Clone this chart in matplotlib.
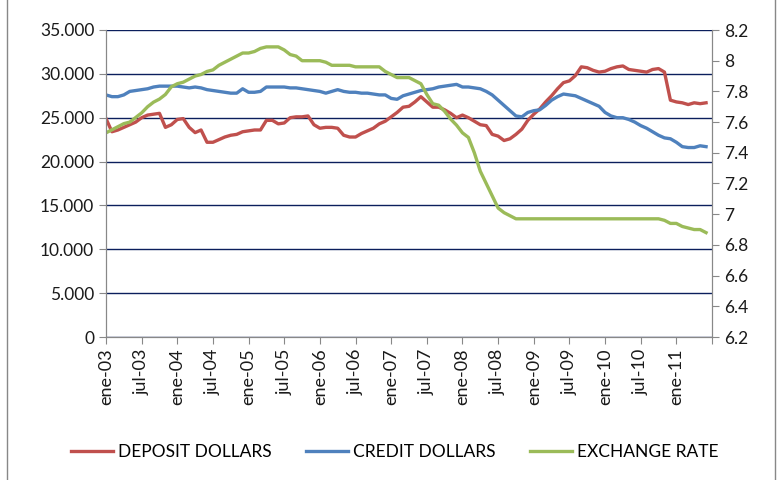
import matplotlib.pyplot as plt
from matplotlib.patches import Rectangle
from matplotlib.ticker import FuncFormatter

plt.rcParams['font.family'] = ['Lato', 'DejaVu Sans']

# monthly series, ene-03 .. jun-11
deposit = [24.9, 23.4, 23.6, 23.9, 24.2, 24.5, 25.0, 25.3, 25.4, 25.5,
           23.9, 24.2, 24.8, 24.9, 23.9, 23.3, 23.6, 22.2, 22.2, 22.5,
           22.8, 23.0, 23.1, 23.4, 23.5, 23.6, 23.6, 24.7, 24.7, 24.3,
           24.4, 25.0, 25.1, 25.1, 25.2, 24.2, 23.8, 23.9, 23.9, 23.8,
           23.0, 22.8, 22.8, 23.2, 23.5, 23.8, 24.3, 24.6, 25.1, 25.6,
           26.2, 26.3, 26.8, 27.4, 26.8, 26.2, 26.2, 25.9, 25.5, 25.0,
           25.3, 25.0, 24.6, 24.2, 24.1, 23.1, 22.9, 22.4, 22.6, 23.1,
           23.7, 24.7, 25.4, 26.0, 26.8, 27.5, 28.3, 29.0, 29.2, 29.8,
           30.8, 30.7, 30.4, 30.2, 30.3, 30.6, 30.8, 30.9, 30.5, 30.4,
           30.3, 30.2, 30.5, 30.6, 30.2, 27.0, 26.8, 26.7, 26.5, 26.7,
           26.6, 26.7]
credit = [27.6, 27.4, 27.4, 27.6, 28.0, 28.1, 28.2, 28.3, 28.5, 28.6,
          28.6, 28.6, 28.6, 28.5, 28.4, 28.5, 28.4, 28.2, 28.1, 28.0,
          27.9, 27.8, 27.8, 28.3, 27.9, 27.9, 28.0, 28.5, 28.5, 28.5,
          28.5, 28.4, 28.4, 28.3, 28.2, 28.1, 28.0, 27.8, 28.0, 28.2,
          28.0, 27.9, 27.9, 27.8, 27.8, 27.7, 27.6, 27.6, 27.2, 27.1,
          27.5, 27.7, 27.9, 28.1, 28.2, 28.3, 28.5, 28.6, 28.7, 28.8,
          28.5, 28.5, 28.4, 28.3, 28.0, 27.6, 27.0, 26.4, 25.8, 25.2,
          25.1, 25.6, 25.8, 25.9, 26.4, 27.0, 27.4, 27.7, 27.6, 27.5,
          27.2, 26.9, 26.6, 26.3, 25.6, 25.2, 25.0, 25.0, 24.8, 24.5,
          24.1, 23.8, 23.4, 23.0, 22.7, 22.6, 22.2, 21.7, 21.6, 21.6,
          21.8, 21.7]
exchange = [7.53, 7.55, 7.57, 7.59, 7.60, 7.63, 7.66, 7.70, 7.73, 7.75,
            7.78, 7.83, 7.85, 7.86, 7.88, 7.90, 7.91, 7.93, 7.94, 7.97,
            7.99, 8.01, 8.03, 8.05, 8.05, 8.06, 8.08, 8.09, 8.09, 8.09,
            8.07, 8.04, 8.03, 8.00, 8.00, 8.00, 8.00, 7.99, 7.97, 7.97,
            7.97, 7.97, 7.96, 7.96, 7.96, 7.96, 7.96, 7.93, 7.91, 7.89,
            7.89, 7.89, 7.87, 7.85, 7.78, 7.72, 7.71, 7.67, 7.62, 7.58,
            7.53, 7.50, 7.40, 7.28, 7.20, 7.12, 7.04, 7.01, 6.99, 6.97,
            6.97, 6.97, 6.97, 6.97, 6.97, 6.97, 6.97, 6.97, 6.97, 6.97,
            6.97, 6.97, 6.97, 6.97, 6.97, 6.97, 6.97, 6.97, 6.97, 6.97,
            6.97, 6.97, 6.97, 6.97, 6.96, 6.94, 6.94, 6.92, 6.91, 6.90,
            6.90, 6.88]
tick_labels = ['ene-03', 'jul-03', 'ene-04', 'jul-04', 'ene-05', 'jul-05',
               'ene-06', 'jul-06', 'ene-07', 'jul-07', 'ene-08', 'jul-08',
               'ene-09', 'jul-09', 'ene-10', 'jul-10', 'ene-11']

months = list(range(len(deposit)))
dep = [v * 1000 for v in deposit]
cred = [v * 1000 for v in credit]

fig = plt.figure(figsize=(7.77, 4.8), dpi=100)
ax = fig.add_axes([106 / 777, 143 / 480, 606 / 777, 307 / 480])
ax2 = ax.twinx()

l1, = ax.plot(months, dep, color='#C0504D', lw=2.4, label='DEPOSIT DOLLARS')
l2, = ax.plot(months, cred, color='#4F81BD', lw=2.4, label='CREDIT DOLLARS')
l3, = ax2.plot(months, exchange, color='#9BBB59', lw=2.4, label='EXCHANGE RATE')

ax.set_ylim(0, 35000)
ax.set_yticks(range(0, 35001, 5000))
ax.yaxis.set_major_formatter(FuncFormatter(lambda v, p: f'{int(v):,}'.replace(',', '.')))
ax.grid(axis='y', color='#0B1F5C', lw=1)
ax.set_axisbelow(True)

ax2.set_ylim(6.2, 8.2)
ax2.set_yticks([6.2 + 0.2 * i for i in range(11)])
ax2.set_yticklabels(['6.2', '6.4', '6.6', '6.8', '7', '7.2', '7.4', '7.6', '7.8', '8', '8.2'])

ax.set_xlim(0, 102)
ax.set_xticks(range(0, 103, 6))
ax.set_xticklabels(tick_labels + [''], rotation=90)

for a in (ax, ax2):
    a.spines['top'].set_visible(False)
    for s in ('left', 'right', 'bottom'):
        a.spines[s].set_color('#888888')
    a.tick_params(colors='#888888', labelcolor='#1a1a1a', labelsize=12.5, length=5)
ax.tick_params(axis='x', labelsize=13)

fig.legend(handles=[l1, l2, l3], loc='center', ncol=3, frameon=False,
           bbox_to_anchor=(395 / 777, 1 - 452 / 480), fontsize=12.5,
           handlelength=2.4, handletextpad=0.3, columnspacing=2.0)

fig.patches.append(Rectangle((7 / 777, -0.01), 768 / 777, 1.02, transform=fig.transFigure,
                             fill=False, edgecolor='#888888', lw=1))

fig.savefig('out.png', dpi=100)
